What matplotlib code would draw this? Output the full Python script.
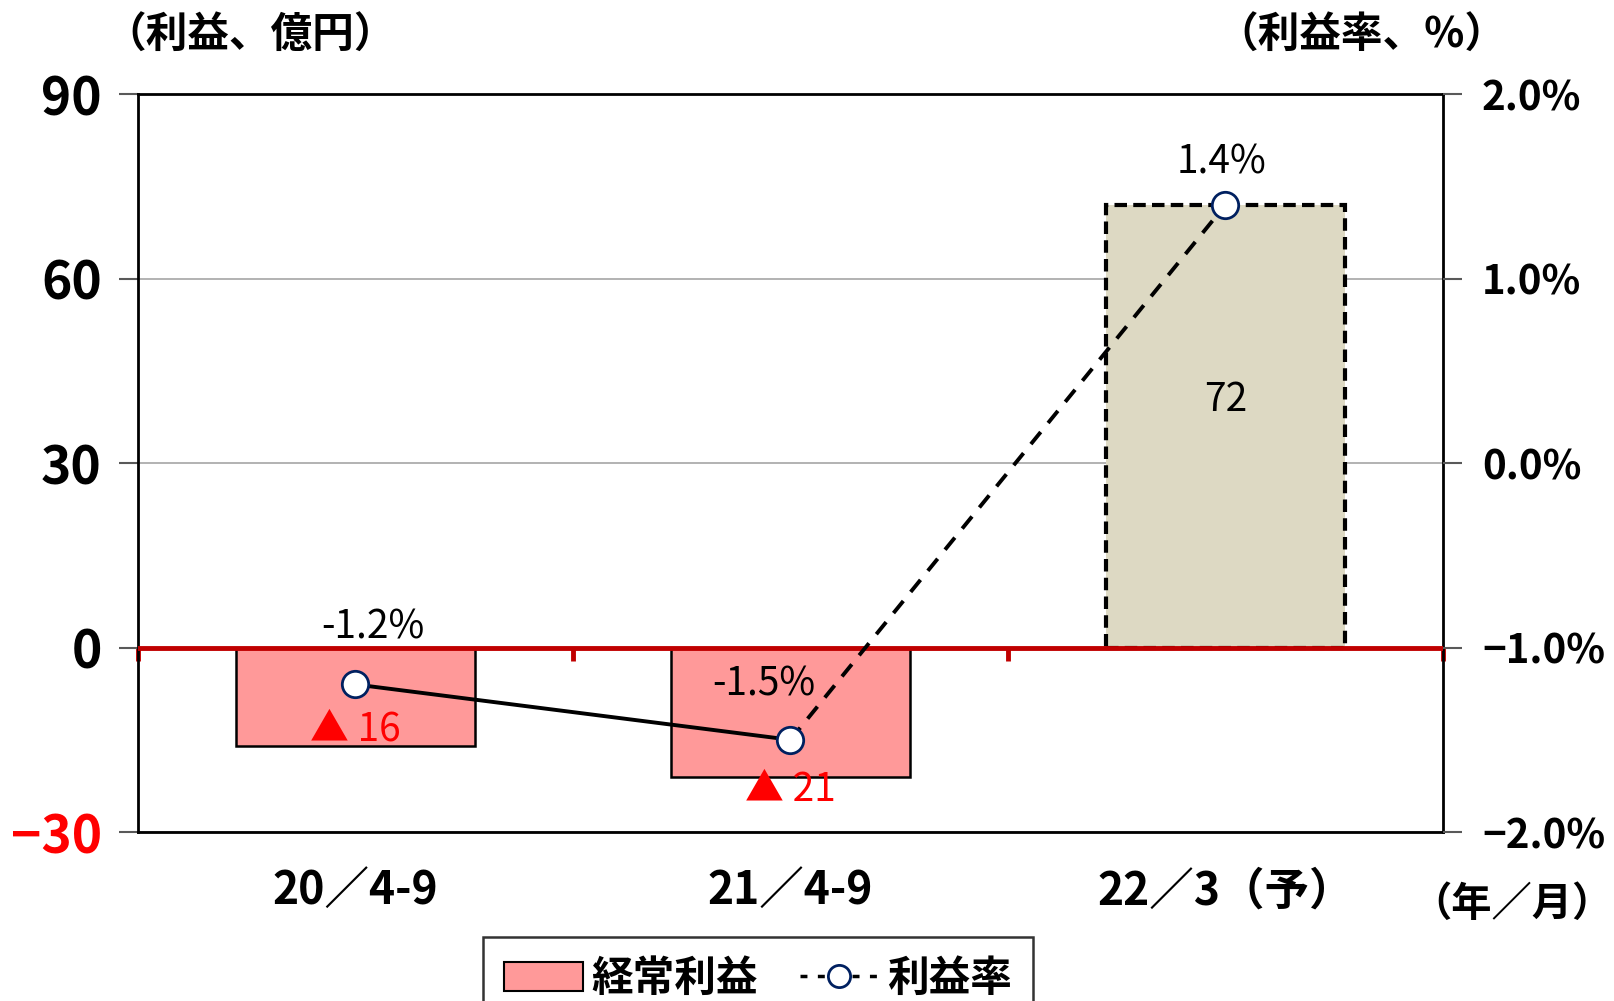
import matplotlib.pyplot as plt
from matplotlib.patches import Patch
from matplotlib.lines import Line2D

plt.rcParams['font.family'] = ['Noto Sans CJK JP', 'DejaVu Sans']

# データ
periods = ['20／4-9', '21／4-9', '22／3（予）']
profit = [-16, -21, 72]          # 経常利益（億円）
rate = [-1.2, -1.5, 1.4]         # 利益率（%）
bar_colors = ['#FF9999', '#FF9999', '#DDD9C3']
left_ticks = [-30, 0, 30, 60, 90]
right_ticks = [-2.0, -1.0, 0.0, 1.0, 2.0]

x = list(range(len(periods)))

fig = plt.figure(figsize=(16.15, 10.01), dpi=100)
ax = fig.add_axes([0.0854, 0.1688, 0.8081, 0.7372])

bars = ax.bar(x, profit, width=0.55, color=bar_colors, edgecolor='black', linewidth=1.8, zorder=2)
bars[2].set_linestyle((0, (3, 1.5)))
bars[2].set_linewidth(3)

ax.set_xlim(-0.5, 2.5)
ax.set_ylim(-30, 90)
ax.set_yticks(left_ticks)
ax.yaxis.grid(True, color='#A6A6A6', lw=1.2)
ax.set_axisbelow(True)
for s in ax.spines.values():
    s.set_linewidth(2)
ax.tick_params(axis='y', length=14, width=1.5, color='#595959', pad=12, labelsize=37)
for lab in ax.get_yticklabels():
    lab.set_fontweight('bold')
ax.get_yticklabels()[0].set_color('red')
ax.set_xticks(x)
ax.set_xticklabels(periods, fontsize=32, fontweight='bold')
ax.tick_params(axis='x', length=0, pad=26)

# 0 の線（赤）
ax.axhline(0, color='#C00000', lw=3.5, zorder=3)
sec = ax.secondary_xaxis(30 / 120)
sec.set_xticks([-0.5, 0.5, 1.5, 2.5])
sec.tick_params(axis='x', length=9, width=3.5, color='#C00000', labelbottom=False)
sec.spines['bottom'].set_visible(False)

# 赤字ラベル
red_offsets = [(0, 16), (0, -13)]
for i, v in enumerate(profit[:2]):
    ax.annotate(f'▲ {abs(v)}', (x[i], v), xytext=red_offsets[i], textcoords='offset pixels',
                ha='center', va='center', color='red', fontsize=28, zorder=5)
ax.annotate(f'{profit[2]}', (x[2], profit[2] / 2), xytext=(0, 26), textcoords='offset pixels',
            ha='center', va='center', fontsize=28, zorder=5)

# 利益率
ax2 = ax.twinx()
ax2.set_ylim(-2.0, 2.0)
ax2.set_yticks(right_ticks)
ax2.set_yticklabels([f'{t:.1f}%'.replace('-', '−') for t in right_ticks], fontsize=29, fontweight='bold')
ax2.tick_params(axis='y', length=14, width=1.5, color='#595959', pad=14)
for s in ax2.spines.values():
    s.set_visible(False)
ax2.plot(x[:2], rate[:2], color='black', lw=2.8, zorder=3)
ax2.plot(x[1:], rate[1:], color='black', lw=2.8, ls=(0, (4, 3)), zorder=3)
ax2.plot(x, rate, 'o', ms=19, mfc='white', mec='#002060', mew=2, zorder=4)

rate_offsets = [(17, 57), (-27, 55), (-4, 42)]
for i, r in enumerate(rate):
    ax2.annotate(f'{r:.1f}%', (x[i], r), xytext=rate_offsets[i], textcoords='offset pixels',
                 ha='center', va='center', fontsize=28, zorder=5)

# 見出し
fig.text(250 / 1615, 1 - 36 / 1001, '（利益、億円）', ha='center', va='center', fontsize=30, fontweight='bold')
fig.text(1361 / 1615, 1 - 36 / 1001, '（利益率、%）', ha='center', va='center', fontsize=30, fontweight='bold')
fig.text(1512 / 1615, 1 - 904 / 1001, '（年／月）', ha='center', va='center', fontsize=29, fontweight='bold')

# 凡例
handles = [Patch(facecolor='#FF9999', edgecolor='black', linewidth=1.5),
           Line2D([], [], color='black', lw=2.5, ls=(0, (2, 3)), marker='o', ms=16,
                  mfc='white', mec='#002060', mew=2)]
leg = fig.legend(handles, ['経常利益', '利益率'], loc='upper center',
                 bbox_to_anchor=(758 / 1615, 1 - 937 / 1001), ncol=2, frameon=True,
                 fancybox=False, edgecolor='black', prop={'weight': 'bold', 'size': 30},
                 handlelength=1.9, columnspacing=1.0, borderpad=0.5, handletextpad=0.2,
                 borderaxespad=0)
leg.get_frame().set_linewidth(1.8)

fig.savefig('out.png', dpi=100)
